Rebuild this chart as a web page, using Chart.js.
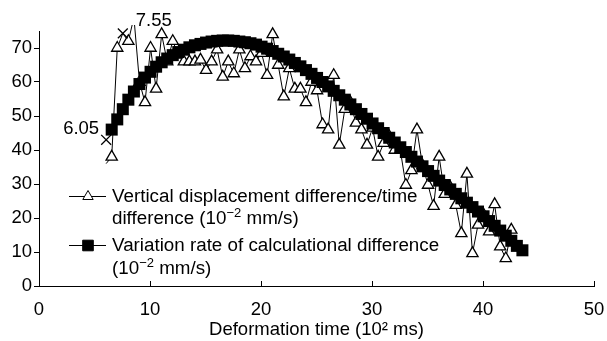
<!DOCTYPE html>
<html>
<head>
<meta charset="utf-8">
<script src="https://cdn.jsdelivr.net/npm/chart.js@4.4.1/dist/chart.umd.min.js"></script>
<style>
  html, body { margin: 0; padding: 0; background: #fff; }
</style>
</head>
<body>
<canvas id="rate-chart" width="607" height="341"></canvas>
<script>
// measured: vertical displacement difference / time difference
const measTimes = [6.05, 6.55, 7.05, 7.55, 8.05, 8.55, 9.05, 9.55, 10.05, 10.55,
  11.05, 11.55, 12.05, 12.55, 13.05, 13.55, 14.05, 14.55, 15.05, 15.55,
  16.05, 16.55, 17.05, 17.55, 18.05, 18.55, 19.05, 19.55, 20.05, 20.55,
  21.05, 21.55, 22.05, 22.55, 23.05, 23.55, 24.05, 24.55, 25.05, 25.55,
  26.05, 26.55, 27.05, 27.55, 28.05, 28.55, 29.05, 29.55, 30.05, 30.55,
  31.05, 31.55, 32.05, 32.55, 33.05, 33.55, 34.05, 34.55, 35.05, 35.55,
  36.05, 36.55, 37.05, 37.55, 38.05, 38.55, 39.05, 39.55, 40.05, 40.55,
  41.05, 41.55, 42.05, 42.55];
const measValues = [36, 38, 70, 74.3, 72, 79, 60, 54, 70, 58,
  74, 66, 72, 68, 66, 66, 66, 66.5, 63.5, 66,
  69.5, 61.5, 66, 62.5, 69.5, 64, 67.5, 66, 68.5, 62,
  74, 65, 55.7, 64, 58, 58, 54, 60, 57.5, 47.5,
  46, 62, 41.5, 52, 54, 48, 46, 41.5, 46.5, 38,
  42, 44, 40, 40, 29.7, 34, 46, 35.5, 29.7, 23.5,
  38, 27, 29, 23.8, 15.5, 33, 9.6, 18, 21, 16,
  24, 11.6, 8.1, 16.5];

// calculated: variation rate of calculational difference
const calcTimes = [6.55, 7.05, 7.55, 8.05, 8.55, 9.05, 9.55, 10.05, 10.55,
  11.05, 11.55, 12.05, 12.55, 13.05, 13.55, 14.05, 14.55, 15.05, 15.55,
  16.05, 16.55, 17.05, 17.55, 18.05, 18.55, 19.05, 19.55, 20.05, 20.55,
  21.05, 21.55, 22.05, 22.55, 23.05, 23.55, 24.05, 24.55, 25.05, 25.55,
  26.05, 26.55, 27.05, 27.55, 28.05, 28.55, 29.05, 29.55, 30.05, 30.55,
  31.05, 31.55, 32.05, 32.55, 33.05, 33.55, 34.05, 34.55, 35.05, 35.55,
  36.05, 36.55, 37.05, 37.55, 38.05, 38.55, 39.05, 39.55, 40.05, 40.55,
  41.05, 41.55, 42.05, 42.55, 43.05, 43.55];
const calcValues = [46, 49, 52, 54.8, 57.2, 59.4, 61.3, 63, 64.5,
  65.8, 66.9, 67.9, 68.8, 69.5, 70.2, 70.8, 71.2, 71.6, 71.9,
  72.1, 72.2, 72.2, 72.1, 71.9, 71.7, 71.4, 71.0, 70.4, 69.8,
  69.1, 68.3, 67.5, 66.6, 65.6, 64.6, 63.5, 62.4, 61.2, 60.0,
  58.7, 57.4, 56.1, 54.8, 53.4, 52.0, 50.6, 49.2, 47.8, 46.4,
  45.0, 43.6, 42.2, 40.8, 39.4, 38.0, 36.6, 35.2, 33.8, 32.4,
  31.0, 29.7, 28.4, 27.1, 25.8, 24.5, 23.2, 21.9, 20.5, 19.1,
  17.7, 16.3, 14.8, 13.3, 11.8, 10.5];

// marked points with value labels
const markTimes = [6.05, 7.55];
const markValues = [43, 74.3];

const xTicks = [0, 10, 20, 30, 40, 50];
const yTicks = [0, 10, 20, 30, 40, 50, 60, 70];

const legendLabels = [
  ['Vertical displacement difference/time', 'difference (10^{\u22122} mm/s)'],
  ['Variation rate of calculational difference', '(10^{\u22122} mm/s)']
];

const FONT = "'Liberation Sans', Arial, Helvetica, sans-serif";
Chart.defaults.font.family = FONT;
Chart.defaults.color = '#000';

const toPoints = (xs, ys) => xs.map((t, i) => ({x: t, y: ys[i]}));

// text with ^{...} superscript parts
function drawRich(ctx, text, x, y, size) {
  const parts = text.split(/\^\{(.*?)\}/);
  let cx = x;
  parts.forEach((p, i) => {
    const sup = i % 2 === 1;
    ctx.font = (sup ? Math.round(size * 0.68) : size) + 'px ' + FONT;
    ctx.fillText(p, cx, sup ? y - size * 0.38 : y);
    cx += ctx.measureText(p).width;
  });
}

const overlay = {
  id: 'overlay',
  afterDraw(chart) {
    const {ctx, scales: {x, y}} = chart;
    ctx.save();
    ctx.strokeStyle = '#000';
    ctx.fillStyle = '#000';
    ctx.lineWidth = 1;

    // x ticks point into the plot
    xTicks.forEach(v => {
      const px = Math.round(x.getPixelForValue(v)) + 0.5;
      ctx.beginPath();
      ctx.moveTo(px, y.bottom);
      ctx.lineTo(px, y.bottom - 5);
      ctx.stroke();
    });

    // labels next to the crosses
    ctx.font = '18.5px ' + FONT;
    ctx.textBaseline = 'middle';
    const lblPos = [{align: 'right', dx: -7, dy: -11}, {align: 'left', dx: 13, dy: -12}];
    markTimes.forEach((t, i) => {
      ctx.textAlign = lblPos[i].align;
      ctx.fillText(t.toFixed(2), x.getPixelForValue(t) + lblPos[i].dx,
        y.getPixelForValue(markValues[i]) + lblPos[i].dy);
    });

    // legend
    ctx.textAlign = 'left';
    ctx.textBaseline = 'alphabetic';
    const rows = [
      {sampleY: 196, base: [202, 224], style: 'triangle', r: 6, fill: '#fff'},
      {sampleY: 245, base: [251, 274], style: 'rect', r: 7.5, fill: '#000'}
    ];
    rows.forEach((row, i) => {
      ctx.beginPath();
      ctx.moveTo(69, row.sampleY + 0.5);
      ctx.lineTo(106, row.sampleY + 0.5);
      ctx.stroke();
      ctx.fillStyle = row.fill;
      Chart.helpers.drawPoint(ctx, {pointStyle: row.style, radius: row.r, rotation: 0, borderWidth: 1.3},
        88, row.sampleY + 0.5);
      ctx.fillStyle = '#000';
      legendLabels[i].forEach((line, j) => drawRich(ctx, line, 112, row.base[j], 18.8));
    });
    ctx.restore();
  }
};

new Chart(document.getElementById('rate-chart'), {
  type: 'line',
  data: {
    datasets: [{
      label: 'marks',
      data: toPoints(markTimes, markValues),
      showLine: false,
      pointStyle: 'crossRot',
      pointRadius: 7,
      pointBorderWidth: 1.3,
      pointBorderColor: '#000',
      borderColor: '#000',
      clip: false,
      order: 0
    }, {
      label: 'Variation rate of calculational difference',
      data: toPoints(calcTimes, calcValues),
      borderColor: '#000',
      borderWidth: 1,
      pointStyle: 'rect',
      pointRadius: 8.5,
      pointBackgroundColor: '#000',
      pointBorderColor: '#000',
      pointBorderWidth: 0,
      order: 1
    }, {
      label: 'Vertical displacement difference/time difference',
      data: toPoints(measTimes, measValues),
      borderColor: '#000',
      borderWidth: 1,
      pointStyle: 'triangle',
      pointRadius: c => (c.raw && markTimes.includes(c.raw.x)) ? 0 : 6.5,
      pointBackgroundColor: '#fff',
      pointBorderColor: '#000',
      pointBorderWidth: 1.3,
      clip: {left: 0, right: 0, bottom: 0, top: 6},
      order: 2
    }]
  },
  options: {
    responsive: false,
    animation: false,
    devicePixelRatio: 1,
    layout: {padding: {top: 31, right: 13, left: 0, bottom: 0}},
    plugins: {legend: {display: false}, tooltip: {enabled: false}},
    scales: {
      x: {
        type: 'linear',
        min: 0,
        max: 50,
        afterBuildTicks: s => { s.ticks = xTicks.map(v => ({value: v})); },
        afterFit: s => { s.height = 55; s.paddingLeft = 0; s.paddingRight = 0; },
        grid: {display: false, drawTicks: false},
        border: {display: true, color: '#000', width: 1},
        ticks: {color: '#000', font: {size: 18.5}, padding: 13, maxRotation: 0},
        title: {display: true, text: 'Deformation time (10\u00b2 ms)', color: '#000',
          font: {size: 18.5}, padding: {top: 0, bottom: 0}}
      },
      y: {
        min: 0,
        max: 75,
        afterBuildTicks: s => { s.ticks = yTicks.map(v => ({value: v})); },
        afterFit: s => { s.width = 39; s.paddingTop = 0; s.paddingBottom = 0; },
        grid: {drawOnChartArea: false, tickLength: 5, color: '#000'},
        border: {display: true, color: '#000', width: 1},
        ticks: {color: '#000', font: {size: 18.5}, padding: 2}
      }
    }
  },
  plugins: [overlay]
});
</script>
</body>
</html>
